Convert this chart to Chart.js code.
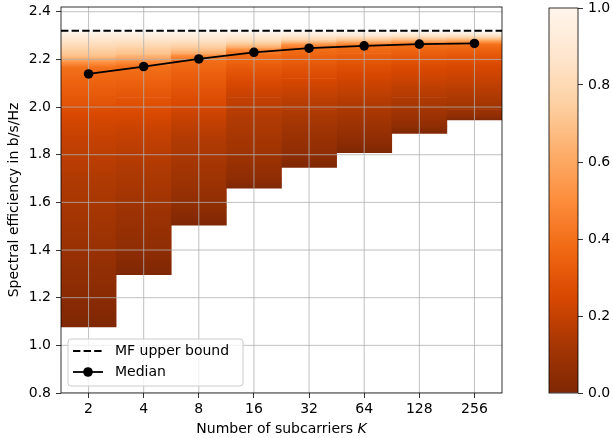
<!DOCTYPE html>
<html>
<head>
<meta charset="utf-8">
<script src="https://cdn.jsdelivr.net/npm/chart.js@4.4.1/dist/chart.umd.min.js"></script>
<style>
  html, body { margin: 0; padding: 0; background: #fff; }
  #wrap { position: relative; width: 613px; height: 438px; overflow: hidden; }
  #main { position: absolute; left: 0; top: 0; }
  #cbar { position: absolute; left: 540px; top: 0; }
</style>
</head>
<body>
<div id="wrap">
  <canvas id="main" width="613" height="438"></canvas>
  <canvas id="cbar" width="73" height="438"></canvas>
</div>
<script>
// ---------------- data ----------------
const K_LABELS = ['2', '4', '8', '16', '32', '64', '128', '256'];
const MEDIAN = [2.139, 2.170, 2.202, 2.230, 2.247, 2.257, 2.264, 2.267];
const MF_BOUND = 2.32;
const Y_TICKS = [0.8, 1.0, 1.2, 1.4, 1.6, 1.8, 2.0, 2.2, 2.4];
const CBAR_TICKS = [0.0, 0.2, 0.4, 0.6, 0.8, 1.0];
// colour levels (empirical CDF values) and, per K, the spectral efficiency where each level is reached
const CDF_LEVELS = [0, 0.05, 0.1, 0.15, 0.2, 0.25, 0.3, 0.35, 0.4, 0.5, 0.6, 0.7, 0.8, 0.9, 1.0];
const Q_K2   = [1.077, 1.27, 1.47, 1.70, 1.87, 1.97, 2.02, 2.10, 2.165, 2.185, 2.200, 2.215, 2.255, 2.290, 2.315];
const Q_K4   = [1.297, 1.40, 1.58, 1.75, 1.89, 1.97, 2.04, 2.11, 2.170, 2.190, 2.205, 2.225, 2.260, 2.290, 2.315];
const Q_K8   = [1.504, 1.58, 1.70, 1.86, 1.95, 2.01, 2.08, 2.15, 2.200, 2.215, 2.225, 2.240, 2.265, 2.290, 2.315];
const Q_K16  = [1.660, 1.70, 1.80, 1.95, 2.04, 2.10, 2.15, 2.19, 2.225, 2.240, 2.250, 2.260, 2.275, 2.295, 2.315];
const Q_K32  = [1.747, 1.80, 1.90, 1.99, 2.06, 2.12, 2.17, 2.21, 2.245, 2.260, 2.268, 2.275, 2.285, 2.300, 2.315];
const Q_K64  = [1.809, 1.86, 1.93, 2.01, 2.08, 2.14, 2.19, 2.225, 2.255, 2.265, 2.273, 2.280, 2.290, 2.300, 2.315];
const Q_K128 = [1.889, 1.92, 1.97, 2.04, 2.10, 2.16, 2.20, 2.235, 2.260, 2.270, 2.277, 2.284, 2.293, 2.303, 2.315];
const Q_K256 = [1.946, 1.96, 1.99, 2.05, 2.11, 2.17, 2.21, 2.240, 2.262, 2.272, 2.279, 2.286, 2.294, 2.304, 2.315];
const COLUMNS = [Q_K2, Q_K4, Q_K8, Q_K16, Q_K32, Q_K64, Q_K128, Q_K256];

// ---------------- colormap (Oranges reversed) ----------------
const ORANGES = ['#fff5eb', '#fee6ce', '#fdd0a2', '#fdae6b', '#fd8d3c', '#f16913', '#d94801', '#a63603', '#7f2704'];
function hex2rgb(h) { return [parseInt(h.slice(1, 3), 16), parseInt(h.slice(3, 5), 16), parseInt(h.slice(5, 7), 16)]; }
const ORANGES_RGB = ORANGES.map(hex2rgb);
function cmap(v) {
  const t = Math.min(Math.max(1 - v, 0), 1) * (ORANGES_RGB.length - 1);
  const i = Math.min(Math.floor(t), ORANGES_RGB.length - 2);
  const f = t - i;
  const a = ORANGES_RGB[i], b = ORANGES_RGB[i + 1];
  const c = a.map((x, k) => Math.round(x + (b[k] - x) * f));
  return 'rgb(' + c.join(',') + ')';
}

Chart.defaults.font.family = "'DejaVu Sans', sans-serif";
Chart.defaults.font.size = 14;
Chart.defaults.color = '#000';

// ---------------- datasets ----------------
const bandDatasets = [];
for (let j = 0; j < CDF_LEVELS.length - 1; j++) {
  const lo = CDF_LEVELS[j], hi = CDF_LEVELS[j + 1];
  const flat = cmap((lo + hi) / 2);
  bandDatasets.push({
    type: 'bar',
    label: 'band' + j,
    data: COLUMNS.map(q => [q[j], q[j + 1]]),
    order: 1,
    grouped: false,
    barPercentage: 1.0,
    categoryPercentage: 1.0,
    borderWidth: 0,
    backgroundColor: function (ctx) {
      const chart = ctx.chart;
      const ys = chart.scales && chart.scales.y;
      if (ctx.type !== 'data' || !ys || !Array.isArray(ctx.raw)) return flat;
      const p0 = ys.getPixelForValue(ctx.raw[0]);
      const p1 = ys.getPixelForValue(ctx.raw[1]);
      if (!isFinite(p0) || !isFinite(p1) || p0 === p1) return flat;
      const g = chart.ctx.createLinearGradient(0, p0, 0, p1);
      g.addColorStop(0, cmap(lo));
      g.addColorStop(1, cmap(hi));
      return g;
    }
  });
}

const medianDataset = {
  type: 'line',
  label: 'Median',
  data: MEDIAN,
  order: 0,
  borderColor: '#000',
  backgroundColor: '#000',
  borderWidth: 1.8,
  pointRadius: 4.8,
  pointHoverRadius: 4.8,
  pointBackgroundColor: '#000',
  pointBorderWidth: 0,
  tension: 0,
  fill: false
};

// ---------------- plugins ----------------
const gridOverPlugin = {
  id: 'gridOver',
  beforeDatasetDraw(chart, args) {
    if (chart.data.datasets[args.index] !== medianDataset) return;
    const c = chart.ctx, a = chart.chartArea;
    const xs = chart.scales.x, ys = chart.scales.y;
    c.save();
    c.beginPath();
    c.rect(a.left, a.top, a.right - a.left, a.bottom - a.top);
    c.clip();
    c.strokeStyle = '#b0b0b0';
    c.lineWidth = 0.8;
    for (let i = 0; i < K_LABELS.length; i++) {
      const x = xs.getPixelForValue(i);
      c.beginPath(); c.moveTo(x, a.top); c.lineTo(x, a.bottom); c.stroke();
    }
    for (const v of Y_TICKS) {
      const y = ys.getPixelForValue(v);
      c.beginPath(); c.moveTo(a.left, y); c.lineTo(a.right, y); c.stroke();
    }
    // MF upper bound
    const yb = ys.getPixelForValue(MF_BOUND);
    c.strokeStyle = '#000';
    c.lineWidth = 2;
    c.setLineDash([7.4, 3.2]);
    c.beginPath(); c.moveTo(a.left, yb); c.lineTo(a.right, yb); c.stroke();
    c.restore();
  },
  afterDraw(chart) {
    const c = chart.ctx, a = chart.chartArea;
    c.save();
    // spines
    c.strokeStyle = '#000';
    c.lineWidth = 0.8;
    c.strokeRect(a.left, a.top, a.right - a.left, a.bottom - a.top);
    // x-axis title with italic K
    const font = "14px 'DejaVu Sans', sans-serif";
    const ifont = "italic 14px 'DejaVu Sans', sans-serif";
    const t1 = 'Number of subcarriers ', t2 = 'K';
    c.font = font; const w1 = c.measureText(t1).width;
    c.font = ifont; const w2 = c.measureText(t2).width;
    const cx = (a.left + a.right) / 2;
    const ty = 429;
    c.fillStyle = '#000';
    c.textBaseline = 'middle';
    c.textAlign = 'left';
    c.font = font; c.fillText(t1, cx - (w1 + w2) / 2, ty);
    c.font = ifont; c.fillText(t2, cx - (w1 + w2) / 2 + w1, ty);
    // legend
    const lx = 68, ly = 339, lw = 175, lh = 47;
    c.beginPath();
    if (c.roundRect) c.roundRect(lx, ly, lw, lh, 3); else c.rect(lx, ly, lw, lh);
    c.fillStyle = 'rgba(255,255,255,0.8)';
    c.fill();
    c.strokeStyle = '#cccccc';
    c.lineWidth = 1;
    c.stroke();
    const r1 = 351, r2 = 372;
    c.strokeStyle = '#000';
    c.lineWidth = 2;
    c.setLineDash([7.4, 3.2]);
    c.beginPath(); c.moveTo(73, r1); c.lineTo(103, r1); c.stroke();
    c.setLineDash([]);
    c.lineWidth = 1.8;
    c.beginPath(); c.moveTo(73, r2); c.lineTo(103, r2); c.stroke();
    c.fillStyle = '#000';
    c.beginPath(); c.arc(88, r2, 4.8, 0, Math.PI * 2); c.fill();
    c.font = font;
    c.textBaseline = 'middle';
    c.fillText('MF upper bound', 115, r1);
    c.fillText('Median', 115, r2);
    c.restore();
  }
};

function zeroPad(s) { s.paddingTop = 0; s.paddingBottom = 0; s.paddingLeft = 0; s.paddingRight = 0; }

new Chart(document.getElementById('main'), {
  type: 'bar',
  data: { labels: K_LABELS, datasets: [medianDataset, ...bandDatasets] },
  options: {
    responsive: false,
    animation: false,
    devicePixelRatio: 1,
    layout: { padding: { left: 0, right: 111, top: 7, bottom: 0 } },
    plugins: { legend: { display: false }, tooltip: { enabled: false } },
    scales: {
      x: {
        type: 'category',
        stacked: true,
        offset: true,
        grid: { offset: false, drawOnChartArea: false, drawTicks: true, tickLength: 5, tickColor: '#000', tickWidth: 0.8 },
        border: { display: false },
        ticks: { padding: 3, color: '#000', maxRotation: 0, autoSkip: false },
        afterFit(s) { s.height = 45; zeroPad(s); }
      },
      y: {
        type: 'linear',
        stacked: false,
        min: 0.8,
        max: 2.42,
        afterBuildTicks(s) { s.ticks = Y_TICKS.map(v => ({ value: v })); },
        grid: { drawOnChartArea: false, drawTicks: true, tickLength: 5, tickColor: '#000', tickWidth: 0.8 },
        border: { display: false },
        ticks: { padding: 5, color: '#000', callback: v => Number(v).toFixed(1) },
        title: { display: true, text: 'Spectral efficiency in b/s/Hz', color: '#000', font: { size: 14 }, padding: { top: 6, bottom: 0 } },
        afterFit(s) { s.width = 61; zeroPad(s); }
      }
    }
  },
  plugins: [gridOverPlugin]
});

// ---------------- colorbar ----------------
const cbarBorder = {
  id: 'cbarBorder',
  afterDraw(chart) {
    const c = chart.ctx, a = chart.chartArea;
    c.save();
    c.strokeStyle = '#000';
    c.lineWidth = 0.8;
    c.strokeRect(a.left, a.top, a.right - a.left, a.bottom - a.top);
    c.restore();
  }
};

new Chart(document.getElementById('cbar'), {
  type: 'bar',
  data: {
    labels: [''],
    datasets: [{
      data: [[CBAR_TICKS[0], CBAR_TICKS[CBAR_TICKS.length - 1]]],
      barPercentage: 1.0,
      categoryPercentage: 1.0,
      borderWidth: 0,
      backgroundColor: function (ctx) {
        const chart = ctx.chart;
        const ys = chart.scales && chart.scales.y;
        if (ctx.type !== 'data' || !ys) return cmap(0.5);
        const p0 = ys.getPixelForValue(0), p1 = ys.getPixelForValue(1);
        if (!isFinite(p0) || !isFinite(p1) || p0 === p1) return cmap(0.5);
        const g = chart.ctx.createLinearGradient(0, p0, 0, p1);
        for (let i = 0; i <= 32; i++) g.addColorStop(i / 32, cmap(i / 32));
        return g;
      }
    }]
  },
  options: {
    responsive: false,
    animation: false,
    devicePixelRatio: 1,
    layout: { padding: { left: 9, right: 0, top: 8, bottom: 45 } },
    plugins: { legend: { display: false }, tooltip: { enabled: false } },
    scales: {
      x: { display: false, offset: true },
      y: {
        position: 'right',
        min: 0,
        max: 1,
        afterBuildTicks(s) { s.ticks = CBAR_TICKS.map(v => ({ value: v })); },
        grid: { drawOnChartArea: false, drawTicks: true, tickLength: 5, tickColor: '#000', tickWidth: 0.8 },
        border: { display: false },
        ticks: { padding: 5, color: '#000', callback: v => Number(v).toFixed(1) },
        afterFit(s) { s.width = 35; zeroPad(s); }
      }
    }
  },
  plugins: [cbarBorder]
});
</script>
</body>
</html>
